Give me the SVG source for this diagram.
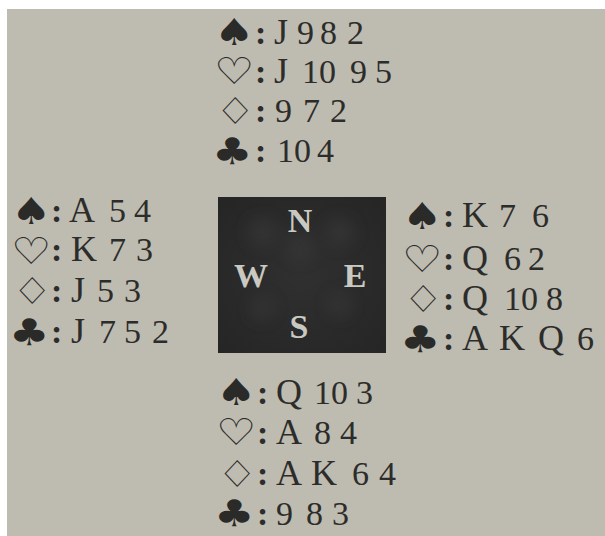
<svg xmlns="http://www.w3.org/2000/svg" width="605" height="536" viewBox="0 0 605 536">
<defs>
<style>
.t{font-family:"Liberation Serif","Times New Roman",serif;font-size:34px;fill:#2c2c2a}
.L{font-size:36px}
.s{font-family:"DejaVu Sans",sans-serif;font-size:37px;fill:#2a2a28}
.c{font-weight:bold}
.cp{font-family:"Liberation Serif",serif;font-size:34px;font-weight:bold;fill:#c9c9c2;text-anchor:middle}
</style>
<radialGradient id="bg" cx="0.5" cy="0.5" r="0.65">
<stop offset="0" stop-color="#303030"/>
<stop offset="1" stop-color="#262626"/>
</radialGradient>
<filter id="blur" x="-50%" y="-50%" width="200%" height="200%"><feGaussianBlur stdDeviation="9"/></filter>
</defs>
<rect width="605" height="536" fill="#ffffff"/>
<rect x="7" y="9" width="598" height="527" fill="#bebbb0"/>
<g id="north">
<text class="s" transform="translate(214,45) scale(1.22,1)">♠</text>
<text class="s" transform="translate(214,84) scale(1.22,1)">♡</text>
<text class="s" transform="translate(215,124) scale(1.22,1)">♢</text>
<text class="s" transform="translate(212,164) scale(1.22,1)">♣</text>
<text class="t" y="44"><tspan class="c" x="255">:</tspan><tspan class="L" x="274">J</tspan><tspan x="297">9</tspan><tspan x="320">8</tspan><tspan x="347">2</tspan></text>
<text class="t" y="83"><tspan class="c" x="255">:</tspan><tspan class="L" x="274">J</tspan><tspan x="302">10</tspan><tspan x="350">9</tspan><tspan x="375">5</tspan></text>
<text class="t" y="122"><tspan class="c" x="255">:</tspan><tspan x="275">9</tspan><tspan x="303">7</tspan><tspan x="330">2</tspan></text>
<text class="t" y="162"><tspan class="c" x="255">:</tspan><tspan x="277">10</tspan><tspan x="317">4</tspan></text>
</g>
<g id="west">
<text class="s" transform="translate(11,224) scale(1.22,1)">♠</text>
<text class="s" transform="translate(11,264) scale(1.22,1)">♡</text>
<text class="s" transform="translate(12,304) scale(1.22,1)">♢</text>
<text class="s" transform="translate(9,345) scale(1.22,1)">♣</text>
<text class="t" y="222"><tspan class="c" x="51">:</tspan><tspan class="L" x="69">A</tspan><tspan x="109">5</tspan><tspan x="134">4</tspan></text>
<text class="t" y="261"><tspan class="c" x="51">:</tspan><tspan class="L" x="71">K</tspan><tspan x="109">7</tspan><tspan x="136">3</tspan></text>
<text class="t" y="302"><tspan class="c" x="51">:</tspan><tspan class="L" x="71">J</tspan><tspan x="97">5</tspan><tspan x="124">3</tspan></text>
<text class="t" y="343"><tspan class="c" x="51">:</tspan><tspan class="L" x="71">J</tspan><tspan x="99">7</tspan><tspan x="124">5</tspan><tspan x="152">2</tspan></text>
</g>
<g id="east">
<text class="s" transform="translate(402,229) scale(1.22,1)">♠</text>
<text class="s" transform="translate(402,272) scale(1.22,1)">♡</text>
<text class="s" transform="translate(403,312) scale(1.22,1)">♢</text>
<text class="s" transform="translate(400,352) scale(1.22,1)">♣</text>
<text class="t" y="227"><tspan class="c" x="443">:</tspan><tspan class="L" x="462">K</tspan><tspan x="499">7</tspan><tspan x="532">6</tspan></text>
<text class="t" y="270"><tspan class="c" x="443">:</tspan><tspan class="L" x="462">Q</tspan><tspan x="504">6</tspan><tspan x="528">2</tspan></text>
<text class="t" y="310"><tspan class="c" x="443">:</tspan><tspan class="L" x="462">Q</tspan><tspan x="504">10</tspan><tspan x="546">8</tspan></text>
<text class="t" y="350"><tspan class="c" x="443">:</tspan><tspan class="L" x="462">A</tspan><tspan class="L" x="499">K</tspan><tspan class="L" x="538">Q</tspan><tspan x="577">6</tspan></text>
</g>
<g id="south">
<text class="s" transform="translate(216,405) scale(1.22,1)">♠</text>
<text class="s" transform="translate(216,445) scale(1.22,1)">♡</text>
<text class="s" transform="translate(217,487) scale(1.22,1)">♢</text>
<text class="s" transform="translate(214,526) scale(1.22,1)">♣</text>
<text class="t" y="404"><tspan class="c" x="257">:</tspan><tspan class="L" x="276">Q</tspan><tspan x="314">10</tspan><tspan x="356">3</tspan></text>
<text class="t" y="444"><tspan class="c" x="257">:</tspan><tspan class="L" x="276">A</tspan><tspan x="314">8</tspan><tspan x="340">4</tspan></text>
<text class="t" y="485"><tspan class="c" x="257">:</tspan><tspan class="L" x="276">A</tspan><tspan class="L" x="311">K</tspan><tspan x="352">6</tspan><tspan x="379">4</tspan></text>
<text class="t" y="525"><tspan class="c" x="257">:</tspan><tspan x="276">9</tspan><tspan x="306">8</tspan><tspan x="332">3</tspan></text>
</g>
<g id="compass">
<rect x="218" y="197" width="168" height="156" fill="url(#bg)"/>
<g filter="url(#blur)" fill="#464646" opacity="0.45">
<circle cx="262" cy="232" r="12"/>
<circle cx="340" cy="232" r="12"/>
<circle cx="262" cy="308" r="10"/>
<circle cx="340" cy="305" r="10"/>
<circle cx="300" cy="248" r="11"/>
</g>
<text class="cp" x="300" y="232">N</text>
<text class="cp" x="251" y="287">W</text>
<text class="cp" x="355" y="287">E</text>
<text class="cp" x="299" y="338">S</text>
</g>
<g id="connectors"/>
</svg>
